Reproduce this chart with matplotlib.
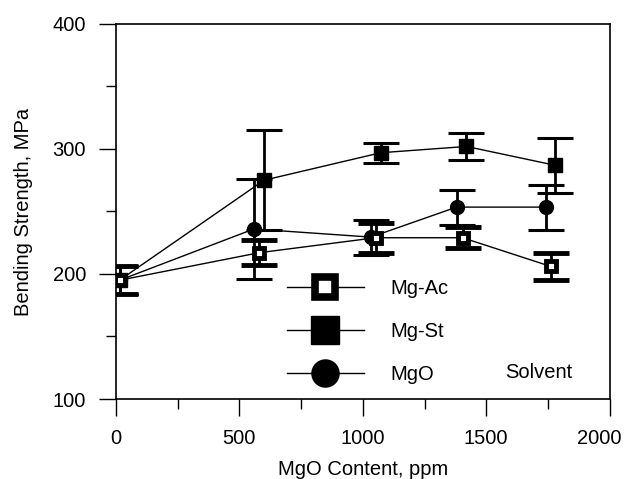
import matplotlib
matplotlib.use("Agg")
import matplotlib.pyplot as plt
from matplotlib.lines import Line2D
from matplotlib.ticker import MultipleLocator
from matplotlib.transforms import ScaledTranslation

plt.rcParams['font.family'] = ['Liberation Sans', 'DejaVu Sans']

# MgO content (ppm) and bending strength (MPa)
mgac_x = [15, 580, 1052, 1404, 1762]
mgac_y = [195, 217, 229, 229, 206]
mgac_err = [11, 10, 12, 8.5, 11]

mgst_x = [15, 600, 1073, 1420, 1778]
mgst_y = [195, 275, 297, 302, 287]
mgst_err = [11, 40, 8, 11, 22]

mgo_x = [15, 559, 1033, 1380, 1741]
mgo_y = [195, 236, 229.5, 253.5, 253.5]
mgo_err = [11, 40, 14, 14, 18]

labels = ['Mg-Ac', 'Mg-St', 'MgO']

fig = plt.figure(figsize=(6.26, 4.79), dpi=100)
ax = fig.add_axes([0.185, 0.167, 0.789, 0.783])

eb = dict(color='black', lw=1, elinewidth=2, capsize=13, capthick=2.2)
ax.errorbar(mgo_x, mgo_y, yerr=mgo_err, marker='o', ms=10, mfc='black', mec='black', **eb)
ax.errorbar(mgst_x, mgst_y, yerr=mgst_err, marker='s', ms=10, mfc='black', mec='black', **eb)
ax.errorbar(mgac_x, mgac_y, yerr=mgac_err, marker='s', ms=6.5, mfc='white', mec='black', mew=3.5, **eb)

handles = [
    Line2D([], [], color='black', lw=1, marker='s', ms=14, mfc='white', mec='black', mew=5.5),
    Line2D([], [], color='black', lw=1, marker='s', ms=19.5, mfc='black', mec='black'),
    Line2D([], [], color='black', lw=1, marker='o', ms=19.5, mfc='black', mec='black'),
]
ax.legend(handles, labels, loc='lower left', bbox_to_anchor=(0.346, 0.039), frameon=False,
          fontsize=14.5, handlelength=3.85, handletextpad=1.3, labelspacing=1.2,
          borderpad=0, borderaxespad=0)
ax.text(1575, 121, 'Solvent', fontsize=14.5, va='center', ha='left')

ax.set_xlim(0, 2000)
ax.set_ylim(100, 400)
ax.xaxis.set_major_locator(MultipleLocator(500))
ax.xaxis.set_minor_locator(MultipleLocator(250))
ax.yaxis.set_major_locator(MultipleLocator(100))
ax.yaxis.set_minor_locator(MultipleLocator(50))
ax.tick_params(which='major', direction='out', length=12.5, width=1, labelsize=14.5, pad=9)
ax.tick_params(which='minor', direction='out', length=7.5, width=1)
for s in ax.spines.values():
    s.set_linewidth(1.2)

ax.set_xlabel('MgO Content, ppm', fontsize=14.5, labelpad=9)
ax.set_ylabel('Bending Strength, MPa', fontsize=14.5, labelpad=14)

# last x label sits a little left of its tick, as in the source figure
fig.canvas.draw()
for lab in ax.xaxis.get_majorticklabels():
    if lab.get_text() == '2000':
        lab.set_transform(lab.get_transform() + ScaledTranslation(-10 / 100, 0, fig.dpi_scale_trans))

fig.savefig('out.png', dpi=100)
